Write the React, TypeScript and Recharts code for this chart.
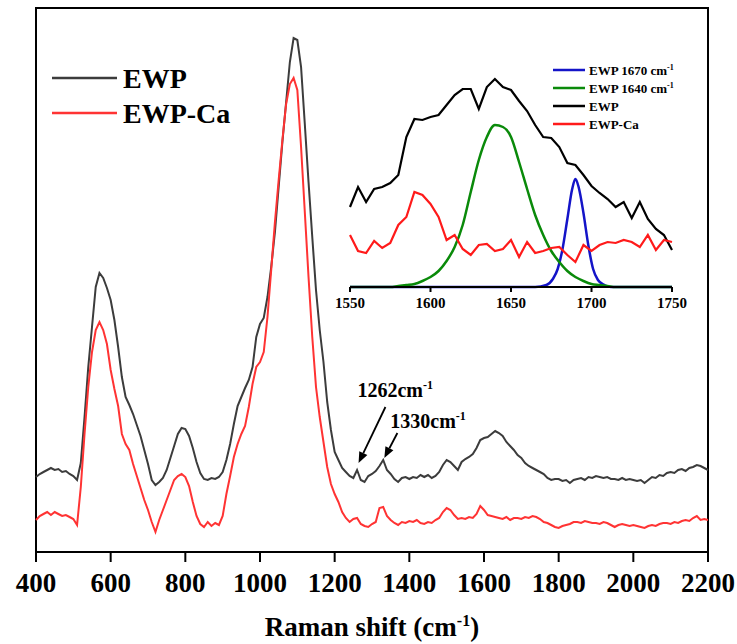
import React from 'react';
import { LineChart, Line, XAxis, YAxis, ReferenceLine, ReferenceDot, ReferenceArea, Label } from 'recharts';

const SERIF = '"Liberation Serif", "Times New Roman", serif';

// Hauptspektrum: Raman shift (cm-1), Schritt 10
const ramanShift = [
  400, 410, 420, 430, 440, 450, 460, 470, 480, 490,
  500, 510, 520, 530, 540, 550, 560, 570, 580, 590,
  600, 610, 620, 630, 640, 650, 660, 670, 680, 690,
  700, 710, 720, 730, 740, 750, 760, 770, 780, 790,
  800, 810, 820, 830, 840, 850, 860, 870, 880, 890,
  900, 910, 920, 930, 940, 950, 960, 970, 980, 990,
  1000, 1010, 1020, 1030, 1040, 1050, 1060, 1070, 1080, 1090,
  1100, 1110, 1120, 1130, 1140, 1150, 1160, 1170, 1180, 1190,
  1200, 1210, 1220, 1230, 1240, 1250, 1260, 1270, 1280, 1290,
  1300, 1310, 1320, 1330, 1340, 1350, 1360, 1370, 1380, 1390,
  1400, 1410, 1420, 1430, 1440, 1450, 1460, 1470, 1480, 1490,
  1500, 1510, 1520, 1530, 1540, 1550, 1560, 1570, 1580, 1590,
  1600, 1610, 1620, 1630, 1640, 1650, 1660, 1670, 1680, 1690,
  1700, 1710, 1720, 1730, 1740, 1750, 1760, 1770, 1780, 1790,
  1800, 1810, 1820, 1830, 1840, 1850, 1860, 1870, 1880, 1890,
  1900, 1910, 1920, 1930, 1940, 1950, 1960, 1970, 1980, 1990,
  2000, 2010, 2020, 2030, 2040, 2050, 2060, 2070, 2080, 2090,
  2100, 2110, 2120, 2130, 2140, 2150, 2160, 2170, 2180, 2190,
  2200,
];

const ewp = [
  75, 78, 80, 82, 84, 82, 83, 80, 81, 78,
  76, 72, 89, 135, 185, 225, 265, 279, 274, 264,
  252, 232, 205, 175, 155, 147, 138, 127, 116, 102,
  88, 72, 67, 70, 74, 82, 94, 106, 118, 124,
  123, 116, 104, 90, 79, 73, 72, 74, 73, 75,
  80, 92, 108, 128, 146, 155, 164, 172, 185, 215,
  228, 234, 255, 285, 320, 365, 410, 450, 490, 514,
  512, 485, 428, 370, 315, 262, 222, 190, 150, 122,
  100, 92, 84, 80, 76, 74, 82, 72, 70, 76,
  78, 81, 86, 92, 82, 78, 73, 70, 74, 75,
  73, 75, 74, 77, 75, 77, 74, 76, 80, 87,
  92, 90, 86, 82, 90, 93, 95, 98, 104, 112,
  114, 115, 118, 121, 119, 116, 110, 106, 102, 97,
  94, 89, 86, 84, 82, 80, 78, 74, 72, 73,
  73, 71, 72, 69, 72, 73, 74, 72, 75, 74,
  76, 75, 74, 75, 73, 73, 72, 74, 72, 73,
  72, 71, 72, 69, 72, 75, 74, 77, 76, 79,
  80, 79, 82, 83, 81, 84, 85, 87, 86, 84,
  82,
];

const ewpCa = [
  32, 36, 38, 40, 37, 40, 38, 36, 37, 35,
  33, 27, 65, 118, 165, 200, 222, 230, 222, 208,
  182, 163, 146, 118, 108, 102, 88, 76, 64, 52,
  42, 30, 20, 32, 42, 52, 62, 72, 76, 78,
  75, 66, 50, 36, 28, 25, 30, 26, 29, 27,
  36, 58, 76, 95, 108, 118, 126, 145, 168, 185,
  190, 200, 235, 282, 330, 372, 412, 448, 468, 474,
  462, 405, 340, 275, 215, 165, 135, 110, 85, 68,
  58, 50, 40, 34, 30, 33, 34, 28, 26, 25,
  28, 30, 44, 45, 36, 32, 29, 27, 30, 29,
  31, 30, 32, 29, 28, 30, 29, 32, 34, 40,
  44, 42, 37, 33, 34, 33, 35, 34, 38, 46,
  42, 37, 36, 35, 34, 33, 35, 32, 34, 34,
  33, 35, 34, 36, 35, 33, 30, 29, 27, 25,
  24, 26, 27, 28, 30, 30, 29, 31, 30, 29,
  29, 28, 30, 29, 27, 25, 27, 28, 27, 26,
  27, 26, 25, 24, 26, 27, 26, 28, 29, 29,
  28, 30, 29, 31, 32, 31, 34, 36, 32, 33,
  32,
];

const mainTicks = [400, 600, 800, 1000, 1200, 1400, 1600, 1800, 2000, 2200];

// Inset: Amid-I-Bereich
const insetShift = [
  1550, 1555, 1560, 1565, 1570, 1575, 1580, 1585, 1590, 1595,
  1600, 1605, 1610, 1615, 1620, 1625, 1630, 1635, 1640, 1645,
  1650, 1655, 1660, 1665, 1670, 1675, 1680, 1685, 1690, 1695,
  1700, 1705, 1710, 1715, 1720, 1725, 1730, 1735, 1740, 1745,
  1750,
];
const insetEwp = [
  80, 100, 85, 98, 100, 104, 112, 150, 168, 167,
  170, 172, 182, 192, 198, 198, 178, 200, 208, 200,
  197, 186, 176, 162, 150, 149, 140, 124, 122, 112,
  101, 94, 88, 80, 85, 69, 85, 68, 58, 52,
  37,
];
const insetEwpCa = [
  52, 36, 34, 46, 39, 44, 62, 70, 95, 92,
  83, 70, 47, 52, 38, 32, 42, 43, 36, 38,
  47, 30, 45, 34, 36, 39, 40, 32, 25, 42,
  36, 42, 45, 44, 47, 45, 40, 52, 37, 47,
  45,
];
const fit1640 = [
  0, 0, 0, 0, 0, 0, 1, 2, 3, 6,
  10, 16, 26, 40, 62, 95, 127, 150, 162, 160,
  150, 125, 98, 72, 52, 36, 25, 16, 10, 6,
  3, 2, 1, 0, 0, 0, 0, 0, 0, 0,
  0,
];
const fit1670Shift = [1550, 1665, 1672, 1676, 1679, 1682, 1685, 1688, 1690, 1692, 1695, 1698, 1701, 1704, 1708, 1712, 1750];
const fit1670 = [0, 0, 2, 8, 18, 38, 68, 98, 108, 100, 74, 42, 18, 7, 2, 0, 0];
const insetTicks = [1550, 1600, 1650, 1700, 1750];

// Beschriftungen mit Pfeilen (Datenkoordinaten)
const arrows = [
  { from: { x: 1336, y: 145 }, to: { x: 1264, y: 89 } },
  { from: { x: 1368, y: 119 }, to: { x: 1333, y: 94 } },
];
const notes = [
  { x: 1261, y: 155, text: '1262cm' },
  { x: 1349, y: 124, text: '1330cm' },
];

const mainData = ramanShift.map((x, i) => ({ x, ewp: ewp[i], ewpCa: ewpCa[i] }));
const insetData = insetShift.map((x, i) => ({
  x,
  ewp: insetEwp[i],
  ewpCa: insetEwpCa[i],
  fit1640: fit1640[i],
}));
const fit1670Data = fit1670Shift.map((x, i) => ({ x, fit1670: fit1670[i] }));

const AXIS = { stroke: '#000', strokeWidth: 2 };

const MainTick = (p: any) => (
  <text x={p.x} y={p.y + 28} textAnchor="middle" fontFamily={SERIF} fontWeight="bold" fontSize={27} fill="#000">
    {p.payload.value}
  </text>
);

const InsetTick = (p: any) => (
  <text x={p.x} y={p.y + 14} textAnchor="middle" fontFamily={SERIF} fontWeight="bold" fontSize={15} fill="#000">
    {p.payload.value}
  </text>
);

const AxisTitle = (p: any) => {
  const vb = p.viewBox || { x: 36, y: 552, width: 672 };
  return (
    <text x={vb.x + vb.width / 2} y={vb.y + 84} textAnchor="middle" fontFamily={SERIF} fontWeight="bold" fontSize={27} fill="#000">
      Raman shift (cm
      <tspan dy={-10} fontSize={16}>-1</tspan>
      <tspan dy={10}>)</tspan>
    </text>
  );
};

const Arrow = (p: any) => {
  const { x1, y1, x2, y2 } = p;
  const a = Math.atan2(y2 - y1, x2 - x1);
  const len = 11;
  const w = 4.5;
  const bx = x2 - len * Math.cos(a);
  const by = y2 - len * Math.sin(a);
  const nx = -Math.sin(a) * w;
  const ny = Math.cos(a) * w;
  return (
    <g>
      <line x1={x1} y1={y1} x2={bx} y2={by} stroke="#000" strokeWidth={1.8} />
      <polygon points={`${x2},${y2} ${bx + nx},${by + ny} ${bx - nx},${by - ny}`} fill="#000" />
    </g>
  );
};

const noteShape = (text: string) => (p: any) => (
  <text x={p.cx} y={p.cy} fontFamily={SERIF} fontWeight="bold" fontSize={20} fill="#000">
    {text}
    <tspan dy={-8} fontSize={12}>-1</tspan>
  </text>
);

const mainLegend = [
  { label: 'EWP', color: '#3c3c3c', y: 78 },
  { label: 'EWP-Ca', color: '#ff3333', y: 113 },
];
const insetLegend = [
  { label: 'EWP 1670 cm', sup: true, color: '#1414c8', y: 70 },
  { label: 'EWP 1640 cm', sup: true, color: '#0a8a0a', y: 88 },
  { label: 'EWP', sup: false, color: '#000', y: 106 },
  { label: 'EWP-Ca', sup: false, color: '#ff1a1a', y: 124 },
];

export default function App() {
  return (
    <div style={{ position: 'absolute', left: 0, top: 0, width: 737, height: 644, background: '#fff', overflow: 'hidden' }}>
      <LineChart width={737} height={644} data={mainData} margin={{ top: 8, right: 29, left: 36, bottom: 32 }}>
        <XAxis
          dataKey="x"
          type="number"
          domain={[400, 2200]}
          ticks={mainTicks}
          interval={0}
          height={60}
          tickSize={10}
          axisLine={AXIS}
          tickLine={AXIS}
          tick={<MainTick />}
        >
          <Label content={AxisTitle} />
        </XAxis>
        <YAxis yAxisId="l" hide domain={[0, 544]} />
        {/* Rahmen um die Zeichenfläche */}
        <ReferenceArea yAxisId="l" x1={400} x2={2200} y1={0} y2={544} fill="none" stroke="#000" strokeWidth={2} ifOverflow="visible" />
        <Line yAxisId="l" dataKey="ewp" type="linear" stroke="#3c3c3c" strokeWidth={2} dot={false} isAnimationActive={false} />
        <Line yAxisId="l" dataKey="ewpCa" type="linear" stroke="#ff3333" strokeWidth={2} dot={false} isAnimationActive={false} />
        {arrows.map((a, i) => (
          <ReferenceLine key={`a${i}`} yAxisId="l" segment={[a.from, a.to]} shape={Arrow} ifOverflow="visible" />
        ))}
        {notes.map((n, i) => (
          <ReferenceDot key={`n${i}`} yAxisId="l" x={n.x} y={n.y} r={0} shape={noteShape(n.text)} ifOverflow="visible" />
        ))}
      </LineChart>

      <div style={{ position: 'absolute', left: 320, top: 60 }}>
        <LineChart width={385} height={265} data={insetData} margin={{ top: 7, right: 33, left: 30, bottom: 13 }}>
          <XAxis
            dataKey="x"
            type="number"
            domain={[1550, 1750]}
            ticks={insetTicks}
            interval={0}
            height={25}
            tickSize={5}
            axisLine={AXIS}
            tickLine={AXIS}
            tick={<InsetTick />}
          />
          <YAxis hide domain={[0, 220]} />
          <Line data={fit1670Data} dataKey="fit1670" type="monotone" stroke="#1414c8" strokeWidth={2.5} dot={false} isAnimationActive={false} />
          <Line dataKey="fit1640" type="monotone" stroke="#0a8a0a" strokeWidth={2.5} dot={false} isAnimationActive={false} />
          <Line dataKey="ewp" type="linear" stroke="#000" strokeWidth={2.2} dot={false} isAnimationActive={false} />
          <Line dataKey="ewpCa" type="linear" stroke="#ff1a1a" strokeWidth={2.2} dot={false} isAnimationActive={false} />
        </LineChart>
      </div>

      <svg width={737} height={644} style={{ position: 'absolute', left: 0, top: 0, pointerEvents: 'none' }}>
        {mainLegend.map((l) => (
          <g key={l.label}>
            <line x1={52} x2={117} y1={l.y} y2={l.y} stroke={l.color} strokeWidth={2.5} />
            <text x={123} y={l.y + 10} fontFamily={SERIF} fontWeight="bold" fontSize={28} fill="#000">
              {l.label}
            </text>
          </g>
        ))}
        {insetLegend.map((l) => (
          <g key={l.label + l.y}>
            <line x1={553} x2={585} y1={l.y} y2={l.y} stroke={l.color} strokeWidth={2.5} />
            <text x={589} y={l.y + 5} fontFamily={SERIF} fontWeight="bold" fontSize={13} fill="#000">
              {l.label}
              {l.sup && (
                <tspan dy={-5} fontSize={8}>
                  -1
                </tspan>
              )}
            </text>
          </g>
        ))}
      </svg>
    </div>
  );
}
